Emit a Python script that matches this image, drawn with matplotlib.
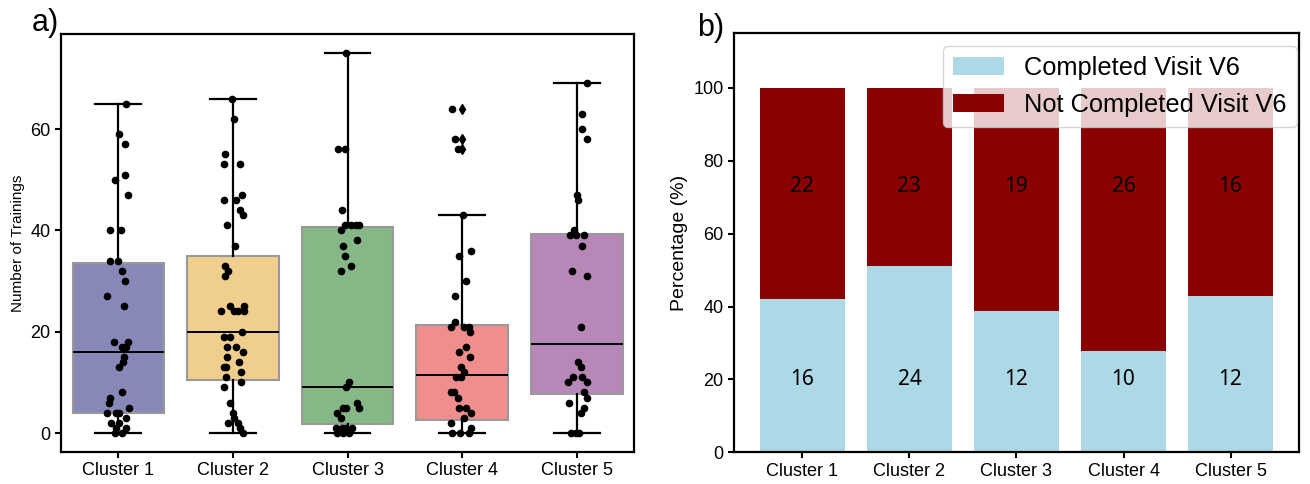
import matplotlib
matplotlib.use("Agg")
import matplotlib.pyplot as plt
import numpy as np

plt.rcParams['font.family'] = ['Liberation Sans', 'DejaVu Sans']

# --- DATA ---
clusters = ["Cluster 1", "Cluster 2", "Cluster 3", "Cluster 4", "Cluster 5"]

# box statistics read off panel a)
q1 = [3.9, 10.4, 1.8, 2.6, 7.7]
medians = [16.0, 20.0, 9.1, 11.4, 17.6]
q3 = [33.6, 35.0, 40.6, 21.4, 39.3]
whislo = [0, 0, 0, 0, 0]
whishi = [65, 66, 75, 43, 69]
fliers = [[], [], [], [64, 58, 56], []]

# individual trainings per participant (strip points) and their horizontal jitter
trainings_c1 = [65, 59, 57, 50, 51, 47, 40, 40, 34, 34, 32, 30, 27, 25, 18, 18, 17, 17,
                15, 14, 13, 8, 7, 6, 5, 4, 4, 4, 3, 2, 2, 1, 1, 0, 0]
jitter_c1 = [0.07, 0.01, 0.06, -0.03, 0.06, 0.08, -0.07, 0.02, -0.07, 0.00, 0.03, 0.06,
             -0.10, 0.05, -0.04, 0.08, 0.03, 0.07, 0.05, 0.04, 0.01, 0.03, -0.07, -0.08,
             0.09, -0.10, -0.02, 0.01, 0.07, -0.06, 0.01, 0.07, -0.02, -0.03, 0.03]
trainings_c2 = [66, 62, 55, 53, 53, 46, 46, 47, 44, 43, 41, 37, 33, 32, 31, 24, 25, 24,
                24, 25, 24, 20, 19, 19, 17, 17, 16, 15, 14, 13, 13, 12, 11, 10, 9, 6, 4,
                3, 2, 2, 1, 0]
jitter_c2 = [-0.01, 0.01, -0.07, -0.08, 0.06, -0.08, 0.03, 0.08, 0.06, 0.09, -0.05, 0.02,
             -0.07, -0.04, -0.07, -0.10, -0.03, 0.01, 0.04, 0.10, 0.10, 0.08, -0.08, -0.03,
             -0.05, 0.03, 0.09, -0.05, 0.05, -0.08, -0.06, 0.07, -0.06, 0.07, -0.08, -0.03,
             0.00, 0.01, -0.04, 0.04, 0.06, 0.09]
trainings_c3 = [75, 56, 56, 44, 41, 41, 41, 41, 40, 38, 37, 35, 33, 32, 10, 9, 6, 5, 5, 5,
                4, 3, 1, 1, 1, 1, 0, 0, 0]
jitter_c3 = [-0.01, -0.08, -0.02, -0.05, -0.02, 0.03, 0.07, 0.10, -0.06, 0.08, -0.04,
             -0.02, 0.03, -0.06, 0.01, -0.01, 0.08, -0.04, -0.01, 0.10, -0.09, -0.06,
             -0.10, -0.05, -0.01, 0.04, -0.09, -0.04, 0.01]
trainings_c4 = [64, 58, 56, 43, 36, 35, 30, 27, 22, 21, 21, 21, 20, 17, 16, 15, 13, 12, 11,
                11, 8, 8, 7, 5, 5, 4, 3, 2, 1, 0, 0, 0]
jitter_c4 = [-0.09, -0.06, -0.04, 0.01, 0.08, -0.03, 0.03, -0.06, -0.06, -0.10, 0.02, 0.06,
             0.07, 0.03, -0.03, 0.07, -0.01, 0.02, -0.05, -0.01, -0.10, -0.07, -0.04,
             -0.03, 0.03, 0.08, 0.02, -0.10, 0.08, -0.09, -0.02, 0.06]
trainings_c5 = [69, 63, 60, 58, 47, 46, 40, 39, 39, 39, 37, 32, 31, 21, 14, 13, 11, 11, 10,
                10, 8, 7, 6, 5, 4, 0, 0, 0]
jitter_c5 = [0.09, 0.05, 0.05, 0.09, 0.00, 0.01, -0.02, -0.06, -0.01, 0.06, 0.05, -0.04,
             0.09, 0.04, 0.01, 0.04, -0.03, 0.05, -0.08, 0.09, 0.06, 0.09, -0.07, 0.06,
             0.04, -0.05, -0.01, 0.02]

trainings = [trainings_c1, trainings_c2, trainings_c3, trainings_c4, trainings_c5]
jitters = [jitter_c1, jitter_c2, jitter_c3, jitter_c4, jitter_c5]

# visit V6 counts per cluster (panel b)
completed = [16, 24, 12, 10, 12]
not_completed = [22, 23, 19, 26, 16]

box_colors = ['#8888b8', '#f0ce8e', '#86b786', '#f08e8e', '#b788b7']

# --- FIGURE ---
fig = plt.figure(figsize=(13.1, 4.84), dpi=100)
ax1 = fig.add_axes([0.0466, 0.0661, 0.4374, 0.8636])
ax2 = fig.add_axes([0.5603, 0.0655, 0.4313, 0.8657])

# panel a) boxplot + strip
stats = []
for i in range(len(clusters)):
    stats.append(dict(q1=q1[i], med=medians[i], q3=q3[i], whislo=whislo[i],
                      whishi=whishi[i], fliers=fliers[i], label=clusters[i]))

bp = ax1.bxp(stats, positions=range(len(clusters)), widths=0.8, capwidths=0.4,
             patch_artist=True, showfliers=True,
             boxprops=dict(edgecolor='#999999', linewidth=1.5),
             whiskerprops=dict(color='black', linewidth=1.6),
             capprops=dict(color='black', linewidth=1.6),
             medianprops=dict(color='black', linewidth=1.4),
             flierprops=dict(marker='d', markerfacecolor='black', markeredgecolor='black',
                             markersize=5))
for patch, c in zip(bp['boxes'], box_colors):
    patch.set_facecolor(c)
    patch.set_zorder(1)

for i, (vals, jit) in enumerate(zip(trainings, jitters)):
    ax1.plot(i + np.array(jit), vals, 'o', color='black', markersize=4.5, zorder=3)

ax1.set_xlim(-0.5, 4.5)
ax1.set_ylim(-3.75, 78.75)
ax1.set_yticks([0, 20, 40, 60])
ax1.set_xticks(range(len(clusters)))
ax1.set_xticklabels(clusters)
ax1.set_ylabel("Number of Trainings", fontsize=11)

# panel b) stacked percentages
totals = np.array(completed) + np.array(not_completed)
pct_completed = np.array(completed) / totals * 100
pct_not = np.array(not_completed) / totals * 100
x = np.arange(len(clusters))

ax2.bar(x, pct_completed, width=0.8, color='lightblue', label='Completed Visit V6')
ax2.bar(x, pct_not, width=0.8, bottom=pct_completed, color='darkred',
        label='Not Completed Visit V6')
# count labels sit at a fixed height in each band
for i in range(len(clusters)):
    ax2.text(x[i], 20, str(completed[i]), ha='center', va='center',
             fontsize=15, family=['Noto Sans', 'DejaVu Sans'])
    ax2.text(x[i], 73, str(not_completed[i]), ha='center',
             va='center', fontsize=15, family=['Noto Sans', 'DejaVu Sans'])

ax2.set_ylim(0, 115)
ax2.set_yticks([0, 20, 40, 60, 80, 100])
ax2.set_xticks(x)
ax2.set_xticklabels(clusters)
ax2.set_ylabel("Percentage (%)", fontsize=14)
ax2.legend(loc='upper right', bbox_to_anchor=(1.019, 1.0), fontsize=18.3)

for ax in (ax1, ax2):
    for sp in ax.spines.values():
        sp.set_linewidth(1.6)
        sp.set_color('black')
    ax.tick_params(labelsize=13, width=1.5, length=4)

fig.text(32 / 1310, 1 - 31 / 484, "a)", fontsize=22, ha='left', va='baseline')
fig.text(697 / 1310, 1 - 36 / 484, "b)", fontsize=22, ha='left', va='baseline')

fig.savefig("out.png", dpi=100)
